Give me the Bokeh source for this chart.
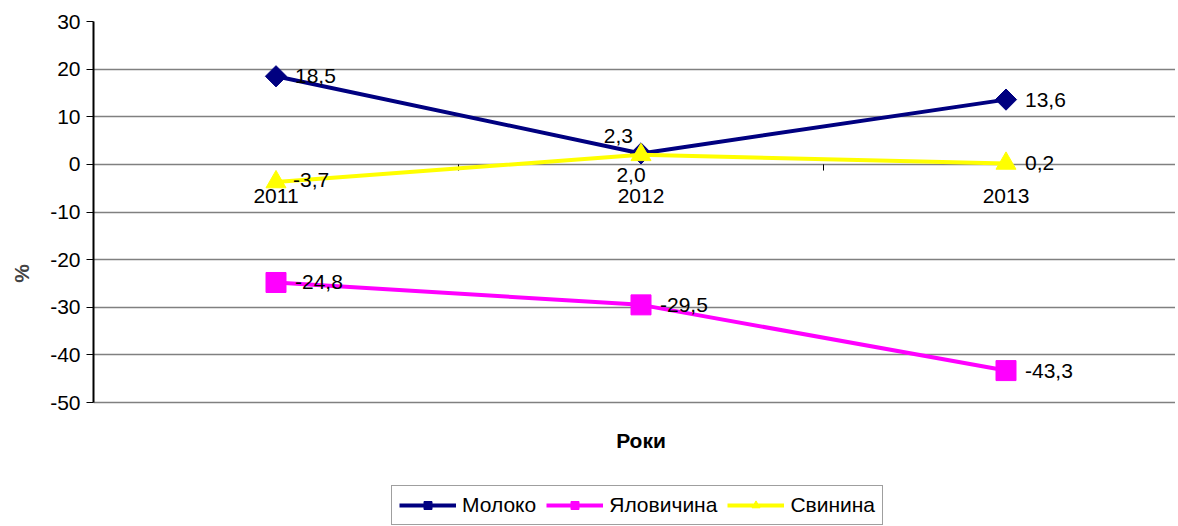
import math
from bokeh.plotting import figure
from bokeh.models import Range1d, Legend, LegendItem, FixedTicker
from bokeh.core.properties import value
from bokeh.embed import file_html
from bokeh.resources import INLINE

# ---- data ----
years = ["2011", "2012", "2013"]
moloko = [18.5, 2.3, 13.6]
yalovychyna = [-24.8, -29.5, -43.3]
svynyna = [-3.7, 2.0, 0.2]
series_names = ["Молоко", "Яловичина", "Свинина"]
moloko_labels = ["18,5", "2,3", "13,6"]
yalovychyna_labels = ["-24,8", "-29,5", "-43,3"]
svynyna_labels = ["-3,7", "2,0", "0,2"]
y_ticks = [30, 20, 10, 0, -10, -20, -30, -40, -50]
x_title = "Роки"
y_title = "%"

FONT = "Liberation Sans"
FS = "21px"
xs = list(range(len(years)))

W, H = 1175, 525
LEFT, TOP = 93, 21
PX_PER_UNIT = 381 / 80.0
y_lo = 30 - (H - TOP) / PX_PER_UNIT
x_hi = -0.5 + (W - LEFT) / 365.0

p = figure(width=W, height=H, output_backend="svg", toolbar_location=None,
           x_range=Range1d(-0.5, x_hi), y_range=Range1d(y_lo, 30),
           x_axis_location=None,
           min_border_left=LEFT, min_border_right=0, min_border_top=TOP, min_border_bottom=0)
p.outline_line_color = None
p.background_fill_color = "white"
p.border_fill_color = "white"

p.xgrid.visible = False
p.ygrid.ticker = FixedTicker(ticks=y_ticks)
p.ygrid.grid_line_color = "#808080"
p.ygrid.grid_line_width = 1.5

ax = p.yaxis[0]
ax.ticker = FixedTicker(ticks=y_ticks)
ax.bounds = (min(y_ticks), max(y_ticks))
ax.major_label_overrides = {t: str(t) for t in y_ticks}
ax.axis_line_color = "black"
ax.axis_line_width = 2
ax.major_tick_out = 7
ax.major_tick_in = 0
ax.major_tick_line_color = "black"
ax.minor_tick_line_color = None
ax.major_label_text_font = FONT
ax.major_label_text_font_size = FS
ax.major_label_text_color = "black"
ax.major_label_standoff = 6
ax.axis_label = y_title
ax.axis_label_text_font = FONT
ax.axis_label_text_font_size = FS
ax.axis_label_text_font_style = "bold"
ax.axis_label_standoff = 14

# category axis drawn at y = 0
bounds = [i + 0.5 for i in xs[:-1]]
p.segment(x0=bounds, y0=[0] * len(bounds), x1=bounds, y1=[-1.3] * len(bounds),
          line_color="black", line_width=1)
p.text(x=xs, y=[0] * len(xs), text=years, y_offset=32,
       text_align="center", text_baseline="middle",
       text_font=value(FONT), text_font_size=FS, text_color="black")

# x axis title under the plot area
p.text(x=[xs[len(xs) // 2]], y=[min(y_ticks)], text=[x_title], y_offset=38,
       text_align="center", text_baseline="middle",
       text_font=value(FONT), text_font_size=FS, text_font_style="bold", text_color="black")

specs = [
    (moloko, moloko_labels, "#000080", "square", 15, math.pi / 4),
    (yalovychyna, yalovychyna_labels, "#FF00FF", "square", 20, 0),
    (svynyna, svynyna_labels, "#FFFF00", "triangle", 20, 0),
]
# label placement (style): (x_offset, y_offset, align) per point
placements = [
    [(19, 0, "left"), (-8, -17, "right"), (19, 0, "left")],
    [(19, 0, "left"), (19, 0, "left"), (19, 0, "left")],
    [(17, -2, "left"), (-10, 20, "center"), (19, 0, "left")],
]

items = []
for (vals, labs, color, marker, size, ang), name in zip(specs, series_names):
    lr = p.line(xs, vals, line_color=color, line_width=4)
    sr = p.scatter(xs, vals, marker=marker, size=size, angle=ang,
                   fill_color=color, line_color=color)
    items.append(LegendItem(label=name, renderers=[lr, sr]))

for (vals, labs, color, marker, size, ang), plc in zip(specs, placements):
    for i in range(len(xs)):
        xo, yo, al = plc[i]
        p.text(x=[xs[i]], y=[vals[i]], text=[labs[i]], x_offset=xo, y_offset=yo,
               text_align=al, text_baseline="middle",
               text_font=value(FONT), text_font_size=FS, text_color="black")

legend = Legend(items=items, orientation="horizontal", location=(298, 0),
                glyph_width=57, glyph_height=20, label_standoff=6, spacing=10,
                padding=7, margin=0,
                label_text_font=FONT, label_text_font_size=FS, label_text_color="black",
                border_line_color="#404040", border_line_width=1.5,
                background_fill_color="white")
p.add_layout(legend, "center")

open("out.html", "w").write(file_html(p, INLINE))
